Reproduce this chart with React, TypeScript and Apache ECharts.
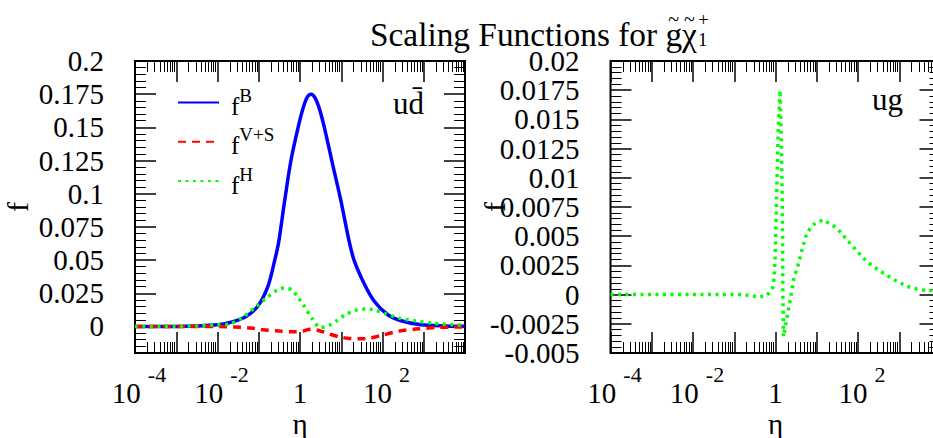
import React, { useEffect, useRef } from 'react';
import * as echarts from 'echarts';

const FONT = '"Liberation Serif", "Times New Roman", serif';

// ---- data (eta values, f values) ----
const etaB = [0.0001, 0.001, 0.00316, 0.01, 0.02, 0.0447, 0.0933, 0.166, 0.24, 0.302, 0.417, 0.603, 0.933, 1.2, 1.51, 1.86, 2.34, 3.02, 3.89, 5.89, 9.77, 15.1, 20.4, 36.3, 63.1, 132, 282, 851, 3162, 10000];
const fB = [0, 0, 0.0003, 0.0012, 0.003, 0.0068, 0.015, 0.03, 0.049, 0.063, 0.093, 0.125, 0.152, 0.165, 0.173, 0.175, 0.172, 0.163, 0.15, 0.125, 0.095, 0.066, 0.05, 0.032, 0.019, 0.009, 0.0043, 0.0013, 0.0004, 0.0002];

const etaVS = [0.0001, 0.01, 0.0251, 0.0631, 0.126, 0.316, 0.708, 1.12, 1.78, 2.82, 5.01, 8.91, 15.8, 28.2, 50.1, 100, 251, 631, 1995, 10000];
const fVS = [0, 0, -0.0004, -0.0012, -0.0025, -0.0035, -0.004, -0.0035, -0.0022, -0.003, -0.0055, -0.0078, -0.009, -0.0093, -0.0088, -0.0065, -0.0035, -0.002, -0.0008, -0.0004];

const etaH = [0.0001, 0.00316, 0.01, 0.02, 0.0398, 0.0891, 0.158, 0.282, 0.417, 0.631, 0.891, 1.26, 2.0, 3.16, 5.01, 7.94, 12.6, 22.4, 39.8, 63.1, 112, 251, 631, 1778, 10000];
const fH = [0, 0.0004, 0.0012, 0.002, 0.0065, 0.0155, 0.0218, 0.0275, 0.029, 0.0275, 0.022, 0.0155, 0.0055, -0.0008, 0.0008, 0.0045, 0.0088, 0.0122, 0.0132, 0.0125, 0.0098, 0.0063, 0.0042, 0.0023, 0.0009];

const etaUg = [0.0001, 0.0316, 0.166, 0.389, 0.617, 0.891, 0.977, 1.07, 1.17, 1.29, 1.41, 1.48, 1.51, 1.56, 1.91, 2.29, 2.75, 3.63, 4.37, 5.75, 8.32, 14.1, 30.9, 53.7, 95.5, 166, 347, 724, 1549, 3236, 10000];
const fUg = [0, 0, 0, -0.0002, -0.0001, 0.0007, 0.003, 0.0087, 0.0144, 0.0175, 0.0115, 0.0058, 0.0001, -0.0036, -0.0019, -0.0004, 0.0013, 0.0027, 0.0038, 0.0053, 0.006, 0.0064, 0.0057, 0.0047, 0.0037, 0.0028, 0.002, 0.0013, 0.0007, 0.0004, 0.0003];

// ---- ticks ----
const xMajorLog = [-4, -3, -2, -1, 0, 1, 2, 3, 4];
const leftYMajor = [0, 0.025, 0.05, 0.075, 0.1, 0.125, 0.15, 0.175, 0.2];
const rightYMajor = [-0.005, -0.0025, 0, 0.0025, 0.005, 0.0075, 0.01, 0.0125, 0.015, 0.0175, 0.02];
const leftYRange = [-0.02, 0.2];
const rightYRange = [-0.005, 0.02];
const etaRange = [0.0001, 10000];

const xMinorLog: number[] = [];
for (let n = -4; n < 4; n++) for (let k = 2; k <= 9; k++) xMinorLog.push(n + Math.log10(k));
function minorList(lo: number, hi: number, step: number, major: number) {
  const out: number[] = [];
  const nSteps = Math.round((hi - lo) / step);
  for (let i = 0; i <= nSteps; i++) {
    const v = lo + i * step;
    const r = v / major;
    if (Math.abs(r - Math.round(r)) > 1e-6) out.push(Number(v.toFixed(6)));
  }
  return out;
}
const leftYMinor = minorList(-0.02, 0.2, 0.005, 0.025);
const rightYMinor = minorList(-0.005, 0.02, 0.0005, 0.0025);

const BLACK = '#000';
const MAJ = 21;
const MIN = 11;

function pair(xs: number[], ys: number[]) {
  return xs.map((x, i) => [x, ys[i]]);
}

const NO_LINE = { show: false, onZero: false };

function xAxesFor(grid: number) {
  const common = { gridIndex: grid, splitLine: { show: false }, axisLine: NO_LINE };
  return [
    {
      ...common,
      type: 'log',
      logBase: 10,
      min: etaRange[0],
      max: etaRange[1],
      position: 'bottom',
      name: 'η',
      nameLocation: 'middle',
      nameGap: 56,
      nameMoveOverlap: false,
      nameTextStyle: { fontFamily: FONT, fontSize: 29, color: BLACK },
      axisTick: { show: true, inside: true, length: MAJ, lineStyle: { color: BLACK, width: 1.5 } },
      axisLabel: {
        show: true,
        margin: 10,
        showMinLabel: true,
        showMaxLabel: true,
        formatter: (v: number) => {
          const e = Math.round(Math.log10(v));
          if (e % 2 !== 0 || e === 4) return '';
          if (e === 0) return '{b|1}';
          return '{a|10}{s|' + e + '}';
        },
        rich: {
          a: { fontFamily: FONT, fontSize: 29, lineHeight: 44, padding: [0, 0, 0, 8], verticalAlign: 'bottom', color: BLACK },
          b: { fontFamily: FONT, fontSize: 29, lineHeight: 44, verticalAlign: 'bottom', color: BLACK },
          s: { fontFamily: FONT, fontSize: 22, lineHeight: 22, padding: [0, 0, 0, 7], verticalAlign: 'top', color: BLACK },
        },
      },
    },
    {
      ...common,
      type: 'value', min: -4, max: 4, position: 'bottom',
      axisLabel: { show: false },
      axisTick: { show: true, inside: true, length: MIN, customValues: xMinorLog, lineStyle: { color: BLACK, width: 1 } },
    },
    {
      ...common,
      type: 'value', min: -4, max: 4, position: 'top',
      axisLabel: { show: false },
      axisTick: { show: true, inside: true, length: MAJ, customValues: xMajorLog, lineStyle: { color: BLACK, width: 1.5 } },
    },
    {
      ...common,
      type: 'value', min: -4, max: 4, position: 'top',
      axisLabel: { show: false },
      axisTick: { show: true, inside: true, length: MIN, customValues: xMinorLog, lineStyle: { color: BLACK, width: 1 } },
    },
  ];
}

function yAxesFor(grid: number, range: number[], major: number[], minor: number[], nameGap: number) {
  const common = { gridIndex: grid, type: 'value', min: range[0], max: range[1], splitLine: { show: false }, axisLine: NO_LINE };
  return [
    {
      ...common,
      position: 'left',
      name: 'f',
      nameLocation: 'middle',
      nameGap,
      nameMoveOverlap: false,
      nameTextStyle: { fontFamily: FONT, fontSize: 30, color: BLACK },
      axisTick: { show: true, inside: true, length: MAJ, customValues: major, lineStyle: { color: BLACK, width: 1.5 } },
      axisLabel: {
        show: true, margin: 31, customValues: major,
        showMinLabel: true, showMaxLabel: true,
        fontFamily: FONT, fontSize: 29, lineHeight: 22, color: BLACK,
        formatter: (v: number) => String(Number(v.toFixed(6))),
      },
    },
    {
      ...common, position: 'left', axisLabel: { show: false },
      axisTick: { show: true, inside: true, length: MIN, customValues: minor, lineStyle: { color: BLACK, width: 1 } },
    },
    {
      ...common, position: 'right', axisLabel: { show: false },
      axisTick: { show: true, inside: true, length: MAJ, customValues: major, lineStyle: { color: BLACK, width: 1.5 } },
    },
    {
      ...common, position: 'right', axisLabel: { show: false },
      axisTick: { show: true, inside: true, length: MIN, customValues: minor, lineStyle: { color: BLACK, width: 1 } },
    },
  ];
}

const legendNames: Record<string, string> = {
  fB: '{f|f}{s|B}',
  fVS: '{f|f}{s|V+S}',
  fH: '{f|f}{s|H}',
};

export default function App() {
  const ref = useRef<HTMLDivElement>(null);
  useEffect(() => {
    if (!ref.current) return;
    const chart = echarts.init(ref.current, undefined, { renderer: 'svg' });

    // title layout measured from the font
    const ctx = document.createElement('canvas').getContext('2d')!;
    const measure = (t: string, size: number) => {
      ctx.font = size + 'px ' + FONT;
      return ctx.measureText(t).width;
    };
    const titleBase = 'Scaling Functions for ';
    const titleLeft = 370;
    const titleSize = Math.min(36, (34 * 327) / measure(titleBase + 'gχ', 34));
    const wBase = measure(titleBase, titleSize);
    const wg = measure('g', titleSize);
    const wchi = measure('χ', titleSize);
    const gCenter = titleLeft + wBase + wg / 2;
    const chiCenter = titleLeft + wBase + wg + wchi / 2;
    const titleEnd = titleLeft + wBase + wg + wchi;

    const gridCommon = { top: 61, width: 330, height: 292, show: true, borderColor: BLACK, borderWidth: 2, backgroundColor: 'transparent', outerBoundsMode: 'none', containLabel: false };

    chart.setOption({
      animation: false,
      backgroundColor: '#fff',
      grid: [
        { ...gridCommon, left: 135 },
        { ...gridCommon, left: 610.5 },
      ],
      xAxis: [...xAxesFor(0), ...xAxesFor(1)],
      yAxis: [
        ...yAxesFor(0, leftYRange, leftYMajor, leftYMinor, 103),
        ...yAxesFor(1, rightYRange, rightYMajor, rightYMinor, 101),
      ],
      legend: {
        left: 177,
        top: 86,
        padding: 0,
        orient: 'vertical',
        itemWidth: 41,
        itemHeight: 14,
        itemGap: 6.3,
        itemStyle: { opacity: 0 },
        data: ['fB', 'fVS', 'fH'],
        formatter: (n: string) => legendNames[n],
        textStyle: {
          rich: {
            f: { fontFamily: FONT, fontSize: 25, lineHeight: 33, padding: [0, 0, 0, 7], verticalAlign: 'bottom', color: BLACK },
            s: { fontFamily: FONT, fontSize: 19, lineHeight: 19, verticalAlign: 'top', color: BLACK },
          },
        },
      },
      graphic: [
        { type: 'text', x: titleLeft, y: 34, style: { text: 'Scaling Functions for gχ', fontFamily: FONT, fontSize: titleSize, fill: BLACK, align: 'left', verticalAlign: 'middle' } },
        { type: 'text', x: gCenter, y: 19, style: { text: '~', fontFamily: FONT, fontSize: 20, fill: BLACK, align: 'center', verticalAlign: 'middle' } },
        { type: 'text', x: chiCenter, y: 19, style: { text: '~', fontFamily: FONT, fontSize: 20, fill: BLACK, align: 'center', verticalAlign: 'middle' } },
        { type: 'text', x: titleEnd + 1, y: 39, style: { text: '1', fontFamily: FONT, fontSize: 19, fill: BLACK, align: 'left', verticalAlign: 'middle' } },
        { type: 'text', x: titleEnd + 1, y: 19, style: { text: '+', fontFamily: FONT, fontSize: 19, fill: BLACK, align: 'left', verticalAlign: 'middle' } },
        { type: 'text', x: 393, y: 103, style: { text: 'ud\u0304', fontFamily: FONT, fontSize: 31, fill: BLACK, align: 'left', verticalAlign: 'middle' } },
        { type: 'text', x: 872, y: 99, style: { text: 'ug', fontFamily: FONT, fontSize: 31, fill: BLACK, align: 'left', verticalAlign: 'middle' } },
      ],
      series: [
        {
          name: 'fB', type: 'line', xAxisIndex: 0, yAxisIndex: 0, data: pair(etaB, fB),
          symbol: 'none', smooth: 0.3, lineStyle: { color: '#0000ff', width: 3.5 }, itemStyle: { color: '#0000ff' },
        },
        {
          name: 'fVS', type: 'line', xAxisIndex: 0, yAxisIndex: 0, data: pair(etaVS, fVS),
          symbol: 'none', smooth: 0.3, lineStyle: { color: '#ff0000', width: 3.5, type: [8, 6] }, itemStyle: { color: '#ff0000' },
        },
        {
          name: 'fH', type: 'line', xAxisIndex: 0, yAxisIndex: 0, data: pair(etaH, fH),
          symbol: 'none', smooth: 0.3, lineStyle: { color: '#00ff00', width: 3.5, type: [3, 4.5] }, itemStyle: { color: '#00ff00' },
        },
        {
          name: 'fH (ug)', type: 'line', xAxisIndex: 4, yAxisIndex: 4, data: pair(etaUg, fUg),
          symbol: 'none', lineStyle: { color: '#00ff00', width: 3.5, type: [3, 4.5] }, itemStyle: { color: '#00ff00' },
        },
      ],
    });
    return () => chart.dispose();
  }, []);
  return (
    <div style={{ position: 'absolute', left: 0, top: 0, width: 933, height: 438, overflow: 'hidden', background: '#fff' }}>
      <div ref={ref} style={{ width: 933, height: 438 }} />
    </div>
  );
}
